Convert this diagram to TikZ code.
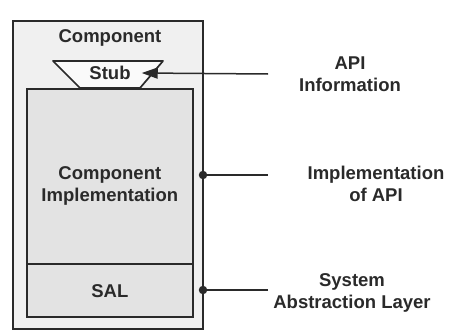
\documentclass[tikz,border=0pt]{standalone}
\usepackage{fontspec}
\setmainfont{Liberation Sans}
\usetikzlibrary{arrows.meta}
\definecolor{ink}{HTML}{2A2A2A}
\definecolor{outerfill}{HTML}{F0F0F0}
\definecolor{innerfill}{HTML}{E3E3E3}
\tikzset{
  lbl/.style={font=\fontsize{18.5}{22}\selectfont\bfseries, text=ink, align=center, inner sep=0pt},
  box/.style={draw=ink, line width=1.7pt},
  conn/.style={draw=ink, line width=1.5pt},
  dotnode/.style={circle, fill=ink, inner sep=0pt, minimum size=8.5pt},
}
\begin{document}
\begin{tikzpicture}[x=1pt, y=1pt]
  \useasboundingbox (0,0) rectangle (454,-332);
  % outer component box
  \draw[box, fill=outerfill, line width=1.4pt] (13,-21) rectangle (203,-329);
  \node[lbl] (comp) at (110,-38) {Component};
  % stub trapezoid
  \coordinate (s1) at (53,-61);
  \coordinate (s2) at (163,-61);
  \coordinate (s3) at (140,-88);
  \coordinate (s4) at (80,-88);
  \draw[box, fill=white!70!outerfill, line join=round] (s1) -- (s2) -- (s3) -- (s4) -- cycle;
  \node[lbl, inner xsep=11pt] (stub) at (110,-73) {Stub};
  % implementation box
  \node[box, fill=innerfill, minimum width=166pt, minimum height=175pt, inner sep=0pt, anchor=north west] (impl) at (26,-88) {};
  \node[lbl] (impltxt) at (impl.center) [yshift=-10pt] {Component\\Implementation};
  % SAL box
  \node[box, fill=innerfill, minimum width=166pt, minimum height=53pt, inner sep=0pt, anchor=north west] (sal) at (26,-263) {};
  \node[lbl] (saltxt) at (sal.center) [yshift=-1pt] {SAL};
  % right labels
  \node[lbl] (api) at (350,-74) {API\\Information};
  \node[lbl] (impapi) at (376,-184) {Implementation\\of API};
  \node[lbl] (sys) at (352,-293) {System\\Abstraction Layer};
  % connector ends
  \coordinate (apiend) at (268,-74);
  \coordinate (impend) at (268,-175);
  \coordinate (sysend) at (268,-290);
  \node[dotnode] (d1) at (203,-175) {};
  \node[dotnode] (d2) at (203,-290) {};
  % connectors
  \draw[conn, -{Triangle[length=16pt, width=11pt]}] (apiend) -- (stub.east);
  \draw[conn] (impend) -- (d1.center);
  \draw[conn] (sysend) -- (d2.center);
\end{tikzpicture}
\end{document}
